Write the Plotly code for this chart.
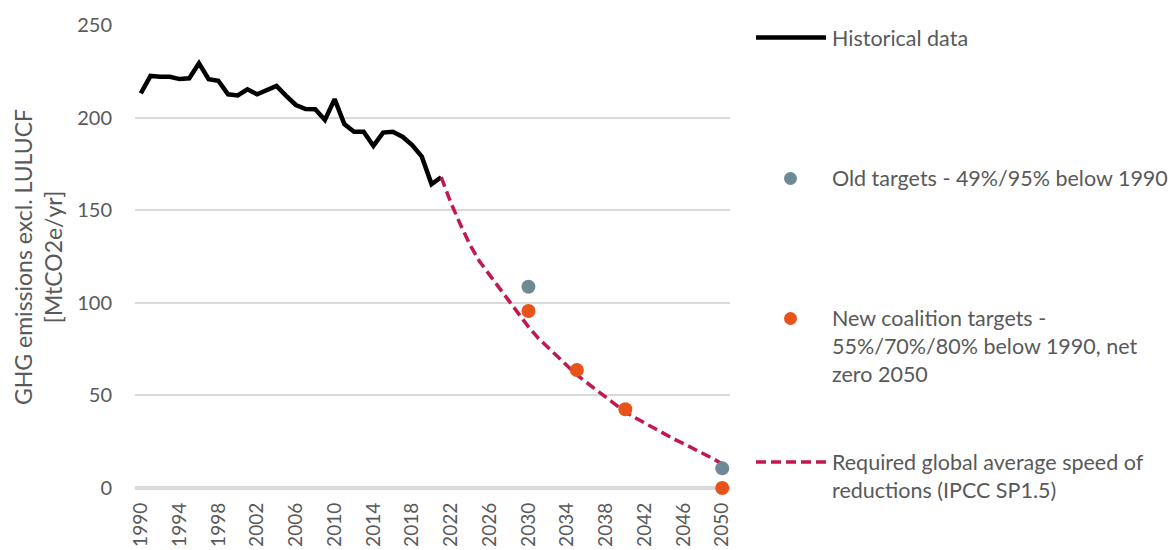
import plotly.graph_objects as go

# historical emissions, 1990-2021
hist_years = list(range(1990, 2022))
hist_values = [213.1, 222.5, 222.1, 222.0, 220.8, 221.2, 229.3, 220.7, 219.9, 212.6,
               212.0, 215.3, 212.6, 214.9, 217.1, 211.7, 206.8, 204.6, 204.5, 198.7,
               210.0, 196.5, 192.4, 192.4, 184.7, 191.9, 192.4, 189.7, 185.2, 178.9,
               164.1, 167.8]

# IPCC SR1.5 required pathway, 2021-2050
ipcc_years = list(range(2021, 2051))
ipcc_values = [167.8, 154, 142, 131, 122, 115, 108, 101, 94, 87,
               81, 76, 71, 66, 61, 57, 53, 49, 45, 41,
               38, 35, 32, 29, 26.5, 24, 21.5, 19, 16, 13]

old_years = [2030, 2050]
old_values = [108.7, 10.6]

new_years = [2030, 2035, 2040, 2050]
new_values = [95.6, 63.7, 42.5, 0]

legend_labels = [
    "Historical data",
    "Old targets - 49%/95% below 1990",
    "New coalition targets -<br>55%/70%/80% below 1990, net<br>zero 2050",
    "Required global average speed of<br>reductions (IPCC SP1.5)",
]

BLACK = "#000000"
GREY_DOT = "#6E8B95"
ORANGE = "#E8531A"
CRIMSON = "#C2184B"
TEXT = "#595959"
GRID = "#D9D9D9"
FONT = "Lato, Open Sans, sans-serif"
DASH = "10px,5px"

W, H = 1172, 550
L, T = 135, 25
R = W - 730
B = H - 488

fig = go.Figure()
fig.add_trace(go.Scatter(x=hist_years, y=hist_values, mode="lines",
                         line=dict(color=BLACK, width=4.5), name=legend_labels[0]))
fig.add_trace(go.Scatter(x=ipcc_years, y=ipcc_values, mode="lines",
                         line=dict(color=CRIMSON, width=3.5, dash=DASH), name=legend_labels[3]))
fig.add_trace(go.Scatter(x=old_years, y=old_values, mode="markers", cliponaxis=False,
                         marker=dict(color=GREY_DOT, size=14), name=legend_labels[1]))
fig.add_trace(go.Scatter(x=new_years, y=new_values, mode="markers", cliponaxis=False,
                         marker=dict(color=ORANGE, size=14), name=legend_labels[2]))

# hand-drawn legend (pixel positions converted to paper coords)
pw, ph = W - L - R, H - T - B
def px(x):
    return (x - L) / pw
def py(y):
    return (H - B - y) / ph

shapes = [
    dict(type="line", xref="paper", yref="paper", x0=px(756), x1=px(826), y0=py(37.5), y1=py(37.5),
         line=dict(color=BLACK, width=4.5)),
    dict(type="line", xref="paper", yref="paper", x0=px(756), x1=px(826), y0=py(462), y1=py(462),
         line=dict(color=CRIMSON, width=3.5, dash=DASH)),
    dict(type="circle", xref="paper", yref="paper", x0=px(784), x1=px(797), y0=py(172), y1=py(185),
         fillcolor=GREY_DOT, line=dict(width=0)),
    dict(type="circle", xref="paper", yref="paper", x0=px(784), x1=px(797), y0=py(312), y1=py(325),
         fillcolor=ORANGE, line=dict(width=0)),
]
ann = []
for label, ymid in zip(legend_labels, [38, 178, 346, 476]):
    ann.append(dict(text=label, xref="paper", yref="paper", x=px(830), y=py(ymid),
                    xanchor="left", yanchor="middle", align="left", showarrow=False,
                    font=dict(size=21.5, color=TEXT, family=FONT)))
ann.append(dict(text="GHG emissions excl. LULUCF<br>[MtCO2e/yr]", textangle=-90,
                xref="paper", yref="paper", x=px(38), y=py(257), xanchor="center", yanchor="middle",
                showarrow=False, font=dict(size=23, color=TEXT, family=FONT)))

fig.update_layout(
    width=W, height=H,
    margin=dict(l=L, r=R, t=T, b=B),
    paper_bgcolor="white", plot_bgcolor="white",
    showlegend=False,
    shapes=shapes, annotations=ann,
    font=dict(family=FONT, color=TEXT, size=20),
)
fig.update_xaxes(range=[1989.4, 2050.8], tickmode="linear", tick0=1990, dtick=4,
                 tickangle=-90, showgrid=False, zeroline=False, showline=False,
                 automargin=False, ticklabelstandoff=10,
                 tickfont=dict(size=19, color=TEXT, family=FONT))
fig.update_yaxes(range=[0, 250], dtick=50, showgrid=True, gridcolor=GRID, gridwidth=1.5,
                 zeroline=True, zerolinecolor=GRID, zerolinewidth=4, showline=False,
                 automargin=False, ticklabelstandoff=22,
                 tickfont=dict(size=20, color=TEXT, family=FONT))

# static figure, flush with the window corner
fig.write_html("out.html",
               config={"responsive": False, "displayModeBar": False},
               post_script="document.body.style.margin='0px';")
